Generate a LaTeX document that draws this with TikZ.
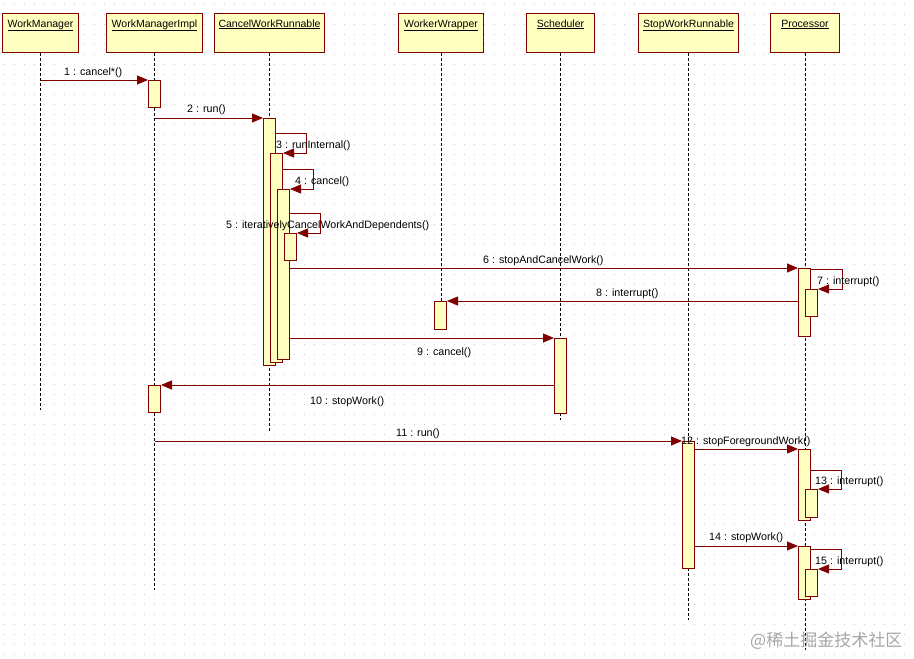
\documentclass[tikz,border=0pt]{standalone}
\usepackage{fontspec}
\setmainfont{Liberation Sans}
\newfontfamily\cjkfont{Noto Sans CJK SC}
\usetikzlibrary{arrows.meta,calc}
\definecolor{umlred}{HTML}{800000}
\definecolor{umlfill}{HTML}{FFFFC0}
\definecolor{dotgray}{HTML}{CCCCCC}
\tikzset{
  hdr/.style={draw=umlred, fill=umlfill, line width=1pt, minimum height=39pt, inner sep=0pt, anchor=north west},
  hdrtext/.style={font=\fontsize{10.5}{12}\selectfont, inner sep=0pt, anchor=base},
  lifeline/.style={draw=black, line width=1pt, dash pattern=on 3pt off 2pt},
  act/.style={draw=umlred, fill=umlfill, line width=1pt, minimum width=12pt, inner sep=0pt, anchor=north west},
  msg/.style={draw=umlred, line width=1pt, -{Triangle[length=11pt,width=9pt]}},
  lbl/.style={font=\fontsize{10.7}{12}\selectfont, inner sep=0pt, anchor=west},
}
\begin{document}
\begin{tikzpicture}[x=1pt,y=-1pt]
\useasboundingbox (0,0) rectangle (914,659);
\fill[white] (0,0) rectangle (914,659);
% dot grid
\foreach \yy in {4,14,...,654}
  \draw[dotgray, line width=1pt, dash pattern=on 1pt off 9pt, dash phase=-3.5pt] (0,\yy) -- (914,\yy);

% headers
\node[hdr, minimum width=76pt] (wm) at (2,13) {};
\node[hdr, minimum width=96pt] (wmi) at (106,13) {};
\node[hdr, minimum width=110pt] (cwr) at (214,13) {};
\node[hdr, minimum width=85pt] (ww) at (398,13) {};
\node[hdr, minimum width=68pt] (sch) at (526,13) {};
\node[hdr, minimum width=100pt] (swr) at (638,13) {};
\node[hdr, minimum width=69pt] (proc) at (770,13) {};
\node[hdrtext] (wmt) at ($(wm.north)+(0,14)$) {\underline{WorkManager}};
\node[hdrtext] (wmit) at ($(wmi.north)+(0,14)$) {\underline{WorkManagerImpl}};
\node[hdrtext] (cwrt) at ($(cwr.north)+(0,14)$) {\underline{CancelWorkRunnable}};
\node[hdrtext] (wwt) at ($(ww.north)+(0,14)$) {\underline{WorkerWrapper}};
\node[hdrtext] (scht) at ($(sch.north)+(0,14)$) {\underline{Scheduler}};
\node[hdrtext] (swrt) at ($(swr.north)+(0,14)$) {\underline{StopWorkRunnable}};
\node[hdrtext] (proct) at ($(proc.north)+(0,14)$) {\underline{Processor}};

% lifeline ends
\coordinate (wmE) at (wm.south |- 0,410);
\coordinate (wmiE) at (wmi.south |- 0,590);
\coordinate (cwrE) at (cwr.south |- 0,432);
\coordinate (wwE) at (ww.south |- 0,330);
\coordinate (schE) at (sch.south |- 0,420);
\coordinate (swrE) at (swr.south |- 0,620);
\coordinate (procE) at (proc.south |- 0,650);
\draw[lifeline] (wm.south) -- (wmE);
\draw[lifeline] (wmi.south) -- (wmiE);
\draw[lifeline] (cwr.south) -- (cwrE);
\draw[lifeline] (ww.south) -- (wwE);
\draw[lifeline] (sch.south) -- (schE);
\draw[lifeline] (swr.south) -- (swrE);
\draw[lifeline] (proc.south) -- (procE);

% activations
\node[act, minimum height=27pt] (wmi1) at (148,80) {};
\node[act, minimum height=247pt] (c1) at (263,118) {};
\node[act, minimum height=209pt] (c2) at (270,153) {};
\node[act, minimum height=170pt] (c3) at (277,189) {};
\node[act, minimum height=27pt] (c4) at (284,233) {};
\node[act, minimum height=68pt] (p1) at (798,268) {};
\node[act, minimum height=27pt] (p2) at (805,289) {};
\node[act, minimum height=28pt] (w1) at (434,301) {};
\node[act, minimum height=75pt] (s1) at (554,338) {};
\node[act, minimum height=27pt] (wmi2) at (148,385) {};
\node[act, minimum height=127pt] (r1) at (682,441) {};
\node[act, minimum height=71pt] (p3) at (798,449) {};
\node[act, minimum height=28pt] (p4) at (805,489) {};
\node[act, minimum height=53pt] (p5) at (798,546) {};
\node[act, minimum height=27pt] (p6) at (805,569) {};

% messages
\draw[msg] (wm.south |- 0,80) -- (wmi1.west |- 0,80);
\draw[msg] (wmi.south |- 0,118) -- (c1.west |- 0,118);
\draw[msg] (c1.east |- 0,133) -| (306,153) -- (c2.east |- 0,153);
\draw[msg] (c2.east |- 0,169) -| (313,189) -- (c3.east |- 0,189);
\draw[msg] (c3.east |- 0,213) -| (320,233) -- (c4.east |- 0,233);
\draw[msg] (c3.east |- 0,268) -- (p1.west |- 0,268);
\draw[msg] (p1.east |- 0,269) -| (842,289) -- (p2.east |- 0,289);
\draw[msg] (p1.west |- 0,301) -- (w1.east |- 0,301);
\draw[msg] (c3.east |- 0,338) -- (s1.west |- 0,338);
\draw[msg] (s1.west |- 0,385) -- (wmi2.east |- 0,385);
\draw[msg] (wmi.south |- 0,441) -- (r1.west |- 0,441);
\draw[msg] (r1.east |- 0,449) -- (p3.west |- 0,449);
\draw[msg] (p3.east |- 0,470) -| (841,489) -- (p4.east |- 0,489);
\draw[msg] (r1.east |- 0,546) -- (p5.west |- 0,546);
\draw[msg] (p5.east |- 0,549) -| (841,569) -- (p6.east |- 0,569);

% labels
\node[lbl] (l1) at (64,73) {1 : cancel*()};
\node[lbl] (l2) at (187,110) {2 : run()};
\node[lbl] (l3) at (276,146) {3 : runInternal()};
\node[lbl] (l4) at (295,182) {4 : cancel()};
\node[lbl] (l5) at (226,226) {5 : iterativelyCancelWorkAndDependents()};
\node[lbl] (l6) at (483,261) {6 : stopAndCancelWork()};
\node[lbl] (l7) at (817,282) {7 : interrupt()};
\node[lbl] (l8) at (596,294) {8 : interrupt()};
\node[lbl] (l9) at (417,353) {9 : cancel()};
\node[lbl] (l10) at (310,402) {10 : stopWork()};
\node[lbl] (l11) at (396,434) {11 : run()};
\node[lbl] (l12) at (681,442) {12 : stopForegroundWork()};
\node[lbl] (l13) at (815,482) {13 : interrupt()};
\node[lbl] (l14) at (709,538) {14 : stopWork()};
\node[lbl] (l15) at (815,562) {15 : interrupt()};

% watermark
\node[font=\cjkfont\fontsize{17}{20}\selectfont, text=black!35, inner sep=0pt, anchor=west] (wmark) at (750,641) {@稀土掘金技术社区};
\end{tikzpicture}
\end{document}
